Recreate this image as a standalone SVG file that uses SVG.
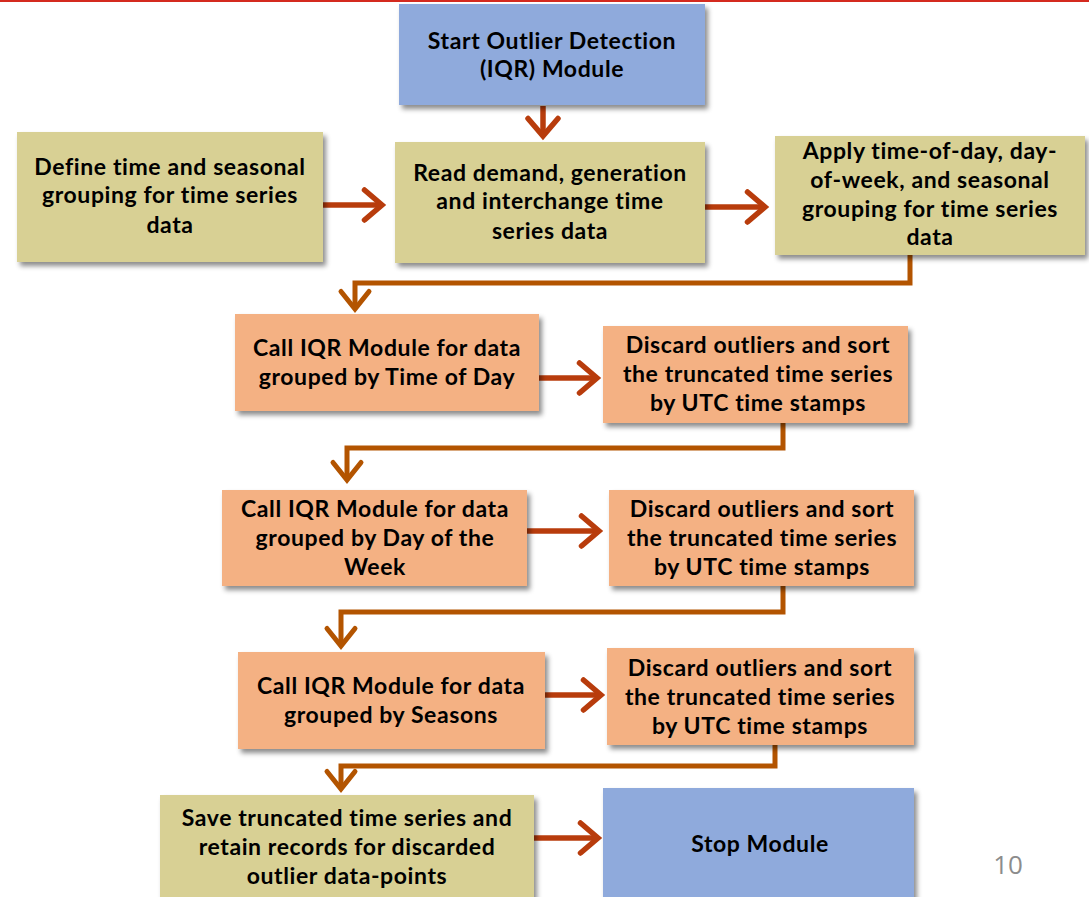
<svg xmlns="http://www.w3.org/2000/svg" width="1089" height="897" viewBox="0 0 1089 897">
<style>
.t{font-family:Lato,"Liberation Sans",sans-serif;font-weight:bold;font-size:23px;letter-spacing:0.6px;fill:#000;text-anchor:middle}
.blue{fill:#8FAADC}
.khaki{fill:#D8D094}
.salmon{fill:#F4B183}
.box{filter:url(#sh)}
.ha{stroke:#B83C0C;stroke-width:5.5;fill:none;marker-end:url(#ah1)}
.el{stroke:#B35400;stroke-width:5;fill:none;marker-end:url(#ah2)}
</style>
<defs>
<filter id="sh" x="-10%" y="-10%" width="130%" height="130%">
<feDropShadow dx="3" dy="4" stdDeviation="2.5" flood-color="#000" flood-opacity="0.45"/>
</filter>
<marker id="ah1" markerWidth="8" markerHeight="10" refX="6.5" refY="5" orient="auto" markerUnits="userSpaceOnUse" viewBox="0 0 8 10" overflow="visible">
<path d="M-11,-10 L6.5,5 L-11,20" fill="none" stroke="#B83C0C" stroke-width="5.5" stroke-linecap="round" stroke-linejoin="miter"/>
</marker>
<marker id="ah2" markerWidth="8" markerHeight="10" refX="6.5" refY="5" orient="auto" markerUnits="userSpaceOnUse" viewBox="0 0 8 10" overflow="visible">
<path d="M-11,-9 L6.5,5 L-11,19" fill="none" stroke="#B35400" stroke-width="5" stroke-linecap="round" stroke-linejoin="miter"/>
</marker>
</defs>
<rect x="0" y="0" width="1089" height="897" fill="#FFFFFF"/>
<rect x="0" y="0" width="1089" height="2" fill="#D42A1F"/>

<g id="connectors">
<path class="ha" d="M543,106 L543,136"/>
<path class="ha" d="M323,205 L382,205"/>
<path class="ha" d="M705,207 L765,207"/>
<path class="ha" d="M539,378 L597,378"/>
<path class="ha" d="M527,531 L599,531"/>
<path class="ha" d="M545,695 L601,695"/>
<path class="ha" d="M534,838 L598,838"/>
<path class="el" d="M910,255 L910,283 L355,283 L355,309"/>
<path class="el" d="M783,423 L783,448 L347,448 L347,480"/>
<path class="el" d="M783,586 L783,612 L341,612 L341,646"/>
<path class="el" d="M775,745 L775,766 L341,766 L341,789"/>
</g>

<g id="start">
<rect class="box blue" x="399" y="4" width="306" height="101"/>
<text class="t" x="552" y="49">Start Outlier Detection</text>
<text class="t" x="552" y="77">(IQR) Module</text>
</g>

<g id="define">
<rect class="box khaki" x="17" y="132" width="306" height="130"/>
<text class="t" x="170" y="175">Define time and seasonal</text>
<text class="t" x="170" y="203">grouping for time series</text>
<text class="t" x="170" y="233">data</text>
</g>

<g id="read">
<rect class="box khaki" x="395" y="142" width="310" height="121"/>
<text class="t" x="550" y="181">Read demand, generation</text>
<text class="t" x="550" y="209">and interchange time</text>
<text class="t" x="550" y="239">series data</text>
</g>

<g id="apply">
<rect class="box khaki" x="775" y="136" width="310" height="119"/>
<text class="t" x="930" y="159">Apply time-of-day, day-</text>
<text class="t" x="930" y="188">of-week, and seasonal</text>
<text class="t" x="930" y="217">grouping for time series</text>
<text class="t" x="930" y="245">data</text>
</g>

<g id="call-tod">
<rect class="box salmon" x="235" y="314" width="304" height="97"/>
<text class="t" x="387" y="356">Call IQR Module for data</text>
<text class="t" x="387" y="385">grouped by Time of Day</text>
</g>

<g id="discard1">
<rect class="box salmon" x="603" y="326" width="305" height="97"/>
<text class="t" x="758" y="353">Discard outliers and sort</text>
<text class="t" x="758" y="382">the truncated time series</text>
<text class="t" x="758" y="411">by UTC time stamps</text>
</g>

<g id="call-dow">
<rect class="box salmon" x="222" y="490" width="305" height="96"/>
<text class="t" x="375" y="517">Call IQR Module for data</text>
<text class="t" x="375" y="546">grouped by Day of the</text>
<text class="t" x="375" y="575">Week</text>
</g>

<g id="discard2">
<rect class="box salmon" x="609" y="490" width="305" height="96"/>
<text class="t" x="762" y="517">Discard outliers and sort</text>
<text class="t" x="762" y="546">the truncated time series</text>
<text class="t" x="762" y="575">by UTC time stamps</text>
</g>

<g id="call-seasons">
<rect class="box salmon" x="238" y="652" width="307" height="97"/>
<text class="t" x="391" y="694">Call IQR Module for data</text>
<text class="t" x="391" y="723">grouped by Seasons</text>
</g>

<g id="discard3">
<rect class="box salmon" x="607" y="648" width="307" height="97"/>
<text class="t" x="760" y="676">Discard outliers and sort</text>
<text class="t" x="760" y="705">the truncated time series</text>
<text class="t" x="760" y="734">by UTC time stamps</text>
</g>

<g id="save">
<rect class="box khaki" x="160" y="795" width="374" height="110"/>
<text class="t" x="347" y="826">Save truncated time series and</text>
<text class="t" x="347" y="855">retain records for discarded</text>
<text class="t" x="347" y="884">outlier data-points</text>
</g>

<g id="stop">
<rect class="box blue" x="603" y="788" width="311" height="117"/>
<text class="t" x="760" y="852">Stop Module</text>
</g>

<text x="1008" y="874" font-family="'Open Sans','Liberation Sans',sans-serif" font-size="26" fill="#8C8C8C" text-anchor="middle">10</text>
</svg>
